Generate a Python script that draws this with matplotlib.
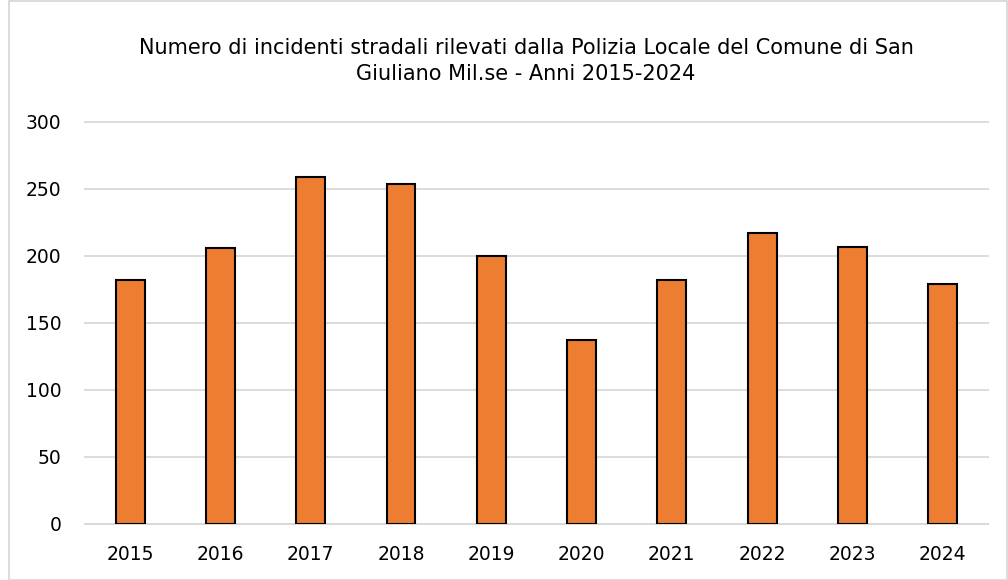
import matplotlib
matplotlib.use("Agg")
import matplotlib.pyplot as plt
from matplotlib.patches import Rectangle

years = ["2015", "2016", "2017", "2018", "2019", "2020", "2021", "2022", "2023", "2024"]
incidents = [182, 206, 259, 254, 200, 137, 182, 217, 207, 179]
yticks = [0, 50, 100, 150, 200, 250, 300]

plt.rcParams["font.family"] = ["DejaVu Sans"]

fig = plt.figure(figsize=(10.08, 5.8), dpi=100)
ax = fig.add_axes([0.0843, 0.0966, 0.8957, 0.6931])

x = range(len(years))
ax.bar(x, incidents, width=0.32, color="#ED7D31", edgecolor="black", linewidth=1.5, zorder=3)

ax.set_xlim(-0.5, len(years) - 0.5)
ax.set_ylim(0, 300)
ax.set_yticks(yticks)
ax.set_xticks(list(x))
ax.set_xticklabels(years)
ax.yaxis.grid(True, color="#D9D9D9", linewidth=1.3, zorder=0)
for gl in ax.get_ygridlines():
    gl.set_clip_on(False)
ax.tick_params(axis="both", length=0, labelsize=13.5, colors="black")
ax.tick_params(axis="y", pad=17)
ax.tick_params(axis="x", pad=15)
for side in ["top", "right", "left"]:
    ax.spines[side].set_visible(False)
ax.spines["bottom"].set_color("#D9D9D9")
ax.spines["bottom"].set_linewidth(1.3)

fig.text(0.522, 0.895, "Numero di incidenti stradali rilevati dalla Polizia Locale del Comune di San\nGiuliano Mil.se - Anni 2015-2024",
         ha="center", va="center", fontsize=15, linespacing=1.35)

fig.patches.append(Rectangle((0.009, 0.0), 0.99, 0.998, transform=fig.transFigure,
                             fill=False, edgecolor="#D9D9D9", linewidth=1.3))

fig.savefig("out.png", dpi=100)
